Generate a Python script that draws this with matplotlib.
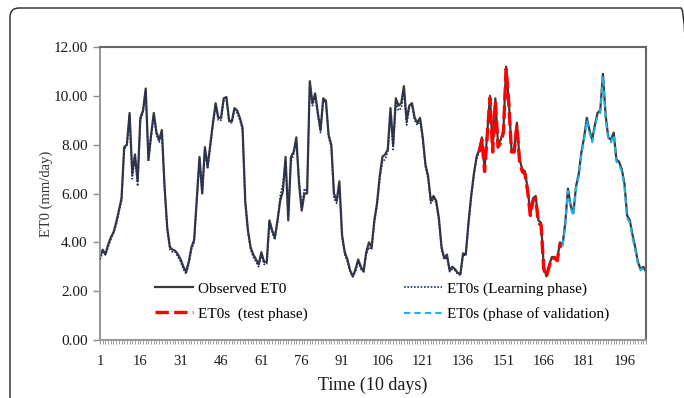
import numpy as np
import matplotlib
matplotlib.use("Agg")
import matplotlib.pyplot as plt
from matplotlib.patches import FancyBboxPatch

plt.rcParams['font.family'] = ['Liberation Serif', 'DejaVu Serif']

# Observed ET0 (mm/day), one value per 10-day step
observed = [
    3.4, 3.7, 3.5, 3.9, 4.2, 4.4, 4.8, 5.3, 5.8, 7.9,
    8.0, 9.3, 6.8, 7.6, 6.5, 9.1, 9.4, 10.3, 7.4, 8.4,
    9.3, 8.5, 8.2, 8.6, 6.3, 4.6, 3.8, 3.7, 3.65, 3.5,
    3.3, 3.0, 2.8, 3.2, 3.8, 4.1, 5.8, 7.5, 6.0, 7.9,
    7.1, 8.0, 8.9, 9.7, 9.1, 9.1, 9.9, 9.95, 9.0, 8.95,
    9.5, 9.4, 9.1, 8.7, 5.7, 4.5, 3.8, 3.5, 3.3, 3.1,
    3.6, 3.2, 3.2, 4.9, 4.5, 4.2, 4.9, 5.7, 6.1, 7.5,
    4.9, 7.5, 7.7, 8.3, 6.4, 5.3, 6.0, 6.0, 10.6, 9.7,
    10.1, 9.3, 8.6, 9.9, 9.8, 8.4, 8.0, 6.0, 5.7, 6.5,
    4.3, 3.6, 3.3, 2.85, 2.6, 2.9, 3.3, 3.0, 2.8, 3.6,
    4.0, 3.8, 4.9, 5.6, 6.7, 7.5, 7.6, 7.8, 9.5, 8.0,
    9.9, 9.6, 9.7, 10.4, 9.0, 9.6, 9.7, 9.1, 8.9, 9.1,
    8.3, 7.2, 6.7, 5.7, 5.9, 5.7, 5.0, 3.8, 3.35, 3.5,
    2.85, 3.0, 2.9, 2.75, 2.7, 3.55, 3.5, 4.8, 5.9, 6.8,
    7.5, 7.8, 8.3, 7.0, 8.5, 10.0, 7.8, 9.9, 8.0, 8.2,
    8.6, 11.2, 9.8, 7.8, 7.8, 8.9, 7.4, 7.0, 6.9, 6.2,
    5.2, 5.8, 5.9, 4.9, 4.8, 3.0, 2.6, 3.05, 3.4, 3.4,
    3.3, 4.0, 3.9, 4.8, 6.2, 5.5, 5.2, 6.3, 6.8, 7.7,
    8.3, 9.1, 8.6, 8.2, 8.8, 9.3, 9.4, 10.9, 9.2, 8.3,
    8.2, 8.5, 7.4, 7.3, 7.0, 6.4, 5.1, 4.9, 4.3, 3.8,
    3.2, 2.9, 3.0, 2.8,
]

# Simulated ET0s, learning phase (steps 1-142)
sim_learning = [
    3.3, 3.6, 3.5, 3.8, 4.1, 4.4, 4.7, 5.2, 5.7, 7.8,
    8.0, 9.2, 6.6, 7.5, 6.3, 9.0, 9.3, 10.2, 7.3, 8.3,
    9.2, 8.4, 8.1, 8.5, 6.2, 4.5, 3.7, 3.6, 3.6, 3.4,
    3.2, 2.9, 2.7, 3.1, 3.7, 4.0, 5.7, 7.4, 6.0, 7.8,
    7.0, 7.9, 8.8, 9.6, 9.0, 9.0, 9.8, 9.9, 8.9, 8.9,
    9.4, 9.3, 9.0, 8.6, 5.6, 4.4, 3.7, 3.4, 3.2, 3.0,
    3.5, 3.1, 3.1, 4.8, 4.4, 4.1, 4.8, 5.9, 6.4, 7.3,
    5.1, 7.3, 7.6, 8.1, 6.6, 5.4, 6.2, 6.1, 10.4, 9.6,
    10.0, 9.2, 8.5, 9.8, 9.7, 8.3, 7.9, 5.8, 5.6, 6.3,
    4.2, 3.5, 3.2, 2.8, 2.6, 2.8, 3.2, 2.9, 2.8, 3.5,
    3.8, 3.7, 4.8, 5.5, 6.6, 7.3, 7.4, 7.7, 9.2, 7.8,
    9.7, 9.4, 9.5, 10.2, 8.8, 9.5, 9.6, 9.0, 8.8, 9.0,
    8.2, 7.1, 6.6, 5.6, 5.8, 5.6, 4.9, 3.7, 3.3, 3.4,
    2.8, 2.9, 2.85, 2.7, 2.65, 3.5, 3.45, 4.7, 5.8, 6.7,
    7.4, 7.7,
]

# Simulated ET0s, test phase (steps 142-173)
sim_test = [
    7.7, 8.2, 6.9, 8.4, 9.9, 7.7, 9.8, 7.9, 8.1,
    8.5, 11.1, 9.7, 7.7, 7.7, 8.8, 7.3, 6.9, 6.8, 6.1,
    5.1, 5.7, 5.8, 4.8, 4.7, 2.9, 2.6, 3.0, 3.35, 3.35,
    3.25, 3.9, 3.85,
]

# Simulated ET0s, validation phase (steps 173-204)
sim_validation = [
    3.85, 4.7, 6.1, 5.4, 5.1, 6.2, 6.7, 7.6,
    8.2, 9.0, 8.5, 8.1, 8.7, 9.2, 9.3, 10.8, 9.1, 8.2,
    8.1, 8.4, 7.3, 7.2, 6.9, 6.3, 5.0, 4.8, 4.2, 3.7,
    3.1, 2.85, 2.95, 2.75,
]

learning_start, test_start, validation_start = 1, 142, 173

x_ticks_labeled = list(range(1, 197, 15))
y_ticks = [0, 2, 4, 6, 8, 10, 12]

fig = plt.figure(figsize=(6.84, 3.98), dpi=100)
ax = fig.add_axes([0.1462, 0.1457, 0.7982, 0.7362])

x_obs = np.arange(1, len(observed) + 1)
x_learn = np.arange(learning_start, learning_start + len(sim_learning))
x_test = np.arange(test_start, test_start + len(sim_test))
x_val = np.arange(validation_start, validation_start + len(sim_validation))

l_obs, = ax.plot(x_obs, observed, color='#3a3a3a', lw=1.6, zorder=2)
l_learn, = ax.plot(x_learn, sim_learning, color='#1f2d66', lw=1.2,
                   linestyle=(0, (1, 1)), zorder=3)
l_test, = ax.plot(x_test, sim_test, color='#ff0000', lw=2.4,
                  dashes=(4, 1.6), zorder=3)
l_val, = ax.plot(x_val, sim_validation, color='#1cb2ec', lw=1.5,
                 dashes=(3, 2), zorder=3)

ax.set_xlim(1, len(observed))
ax.set_ylim(0, 12)

ax.set_xticks(x_obs)
ax.set_xticklabels([str(i) if i in x_ticks_labeled else '' for i in x_obs])
ax.set_yticks(y_ticks)
ax.set_yticklabels([f'{v:.2f}' for v in y_ticks])
ax.tick_params(axis='x', length=3, width=0.6, color='#8c8c8c',
               labelsize=10.5, pad=8, labelcolor='#1a1a1a')
ax.tick_params(axis='y', length=5, width=1, color='#8c8c8c',
               labelsize=11, pad=4, labelcolor='#1a1a1a')

for side in ['left', 'bottom']:
    ax.spines[side].set_color('#999999')
    ax.spines[side].set_linewidth(1.5)
for side in ['top', 'right']:
    ax.spines[side].set_color('#666666')
    ax.spines[side].set_linewidth(1.5)

ax.set_ylabel('ET0 (mm/day)', fontsize=10.5, color='#333333')
ax.yaxis.set_label_coords(-0.086, 0.5)
ax.set_xlabel('Time (10 days)', fontsize=13, color='#1a1a1a')
ax.xaxis.set_label_coords(0.5, -0.125)

ax.legend([l_obs, l_test, l_learn, l_val],
          ['Observed ET0', 'ET0s  (test phase)',
           'ET0s (Learning phase)', 'ET0s (phase of validation)'],
          ncol=2, frameon=False, fontsize=11, handlelength=2.5,
          handletextpad=0.3, columnspacing=6.3, labelspacing=0.75,
          borderpad=0, borderaxespad=0, loc='upper left',
          bbox_to_anchor=(155 / 684, 1 - 282 / 398),
          bbox_transform=fig.transFigure)

# rounded outer frame around the whole figure
frame = FancyBboxPatch((0.10, -0.5), 6.80, 4.40,
                       boxstyle='round,pad=0,rounding_size=0.09',
                       transform=fig.dpi_scale_trans, fill=False,
                       edgecolor='#222222', lw=1.0)
fig.add_artist(frame)

fig.savefig('out.png', dpi=100)
